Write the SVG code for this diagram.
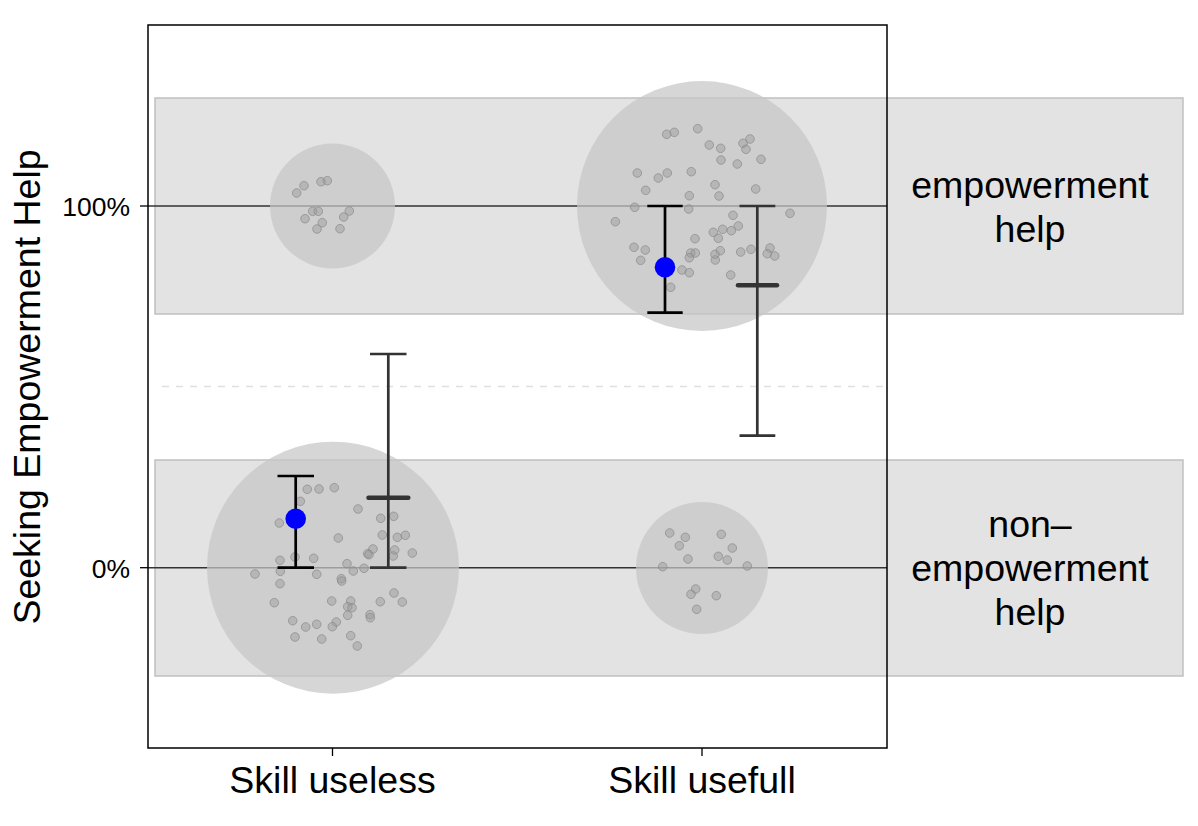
<svg xmlns="http://www.w3.org/2000/svg" width="1198" height="826" viewBox="0 0 1198 826">
<style>
.strip{fill:#e3e3e3;stroke:#c0c0c0;stroke-width:1.5}
.hline{stroke:#333;stroke-width:1.5}
.bubble{fill:#c6c6c6;fill-opacity:0.72}
.dot{fill:#9a9a9a;fill-opacity:0.45;stroke:#8a8a8a;stroke-opacity:0.7;stroke-width:1}
.eb{stroke:#000;stroke-width:2.7;fill:none}
.eb2{stroke:#333;stroke-width:2.7;fill:none}
.mid{stroke:#333;stroke-width:4.5;stroke-linecap:round}
.mean{fill:#0000ff}
.lbl{font-family:"Liberation Sans",Arial,sans-serif;fill:#000}
.tick{stroke:#000;stroke-width:1.3}
</style>
<rect width="1198" height="826" fill="#fff"/>
<g id="strips">
<rect class="strip" x="155" y="98" width="1028" height="216"/>
<rect class="strip" x="155" y="460" width="1028" height="216"/>
</g>
<g id="gridlines">
<line class="hline" x1="148" y1="206" x2="887" y2="206"/>
<line class="hline" x1="148" y1="567.7" x2="887" y2="567.7"/>
<line x1="162" y1="386.5" x2="887" y2="386.5" stroke="#e0e0e0" stroke-width="1.5" stroke-dasharray="7,7"/>
</g>
<g id="bubbles">
<circle class="bubble" cx="332.5" cy="206" r="62.5"/>
<circle class="bubble" cx="702" cy="206" r="125"/>
<circle class="bubble" cx="333" cy="567.7" r="126"/>
<circle class="bubble" cx="702" cy="568" r="66"/>
</g>
<g id="dots-useless-emp">
<circle class="dot" cx="296.7" cy="193" r="4.3"/><circle class="dot" cx="304" cy="185.7" r="4.3"/><circle class="dot" cx="321" cy="181.7" r="4.3"/><circle class="dot" cx="327.3" cy="180.7" r="4.3"/><circle class="dot" cx="312.7" cy="211.3" r="4.3"/><circle class="dot" cx="318.3" cy="211.3" r="4.3"/><circle class="dot" cx="349.3" cy="211" r="4.3"/><circle class="dot" cx="305" cy="218.7" r="4.3"/><circle class="dot" cx="322.3" cy="222.7" r="4.3"/><circle class="dot" cx="343.7" cy="217" r="4.3"/><circle class="dot" cx="317" cy="229" r="4.3"/><circle class="dot" cx="340" cy="228.7" r="4.3"/>
</g>
<g id="dots-usefull-emp">
<circle class="dot" cx="666.7" cy="134.3" r="4.3"/><circle class="dot" cx="674.3" cy="132.3" r="4.3"/><circle class="dot" cx="697.7" cy="128.7" r="4.3"/><circle class="dot" cx="709.3" cy="145" r="4.3"/><circle class="dot" cx="720.7" cy="148.3" r="4.3"/><circle class="dot" cx="743" cy="143.3" r="4.3"/><circle class="dot" cx="750" cy="139" r="4.3"/><circle class="dot" cx="746" cy="149.3" r="4.3"/><circle class="dot" cx="721" cy="160" r="4.3"/><circle class="dot" cx="737.3" cy="164" r="4.3"/><circle class="dot" cx="761" cy="159.3" r="4.3"/><circle class="dot" cx="637.3" cy="173" r="4.3"/><circle class="dot" cx="667.3" cy="173" r="4.3"/><circle class="dot" cx="658.3" cy="178" r="4.3"/><circle class="dot" cx="691.3" cy="171.7" r="4.3"/><circle class="dot" cx="715" cy="184.7" r="4.3"/><circle class="dot" cx="755.7" cy="189" r="4.3"/><circle class="dot" cx="645.7" cy="190.3" r="4.3"/><circle class="dot" cx="689.3" cy="195.7" r="4.3"/><circle class="dot" cx="719" cy="196" r="4.3"/><circle class="dot" cx="634.7" cy="207.3" r="4.3"/><circle class="dot" cx="688.7" cy="209" r="4.3"/><circle class="dot" cx="790" cy="213.3" r="4.3"/><circle class="dot" cx="615.3" cy="221.7" r="4.3"/><circle class="dot" cx="733" cy="215.3" r="4.3"/><circle class="dot" cx="738.3" cy="226" r="4.3"/><circle class="dot" cx="731.3" cy="230.7" r="4.3"/><circle class="dot" cx="722.7" cy="229.3" r="4.3"/><circle class="dot" cx="713.3" cy="232.3" r="4.3"/><circle class="dot" cx="718.3" cy="238.3" r="4.3"/><circle class="dot" cx="695" cy="238.7" r="4.3"/><circle class="dot" cx="634" cy="247.3" r="4.3"/><circle class="dot" cx="645.3" cy="250" r="4.3"/><circle class="dot" cx="640.7" cy="260.3" r="4.3"/><circle class="dot" cx="690.7" cy="253" r="4.3"/><circle class="dot" cx="695.3" cy="253" r="4.3"/><circle class="dot" cx="689.3" cy="257.7" r="4.3"/><circle class="dot" cx="715" cy="254.3" r="4.3"/><circle class="dot" cx="720.3" cy="250.7" r="4.3"/><circle class="dot" cx="715.3" cy="260" r="4.3"/><circle class="dot" cx="740.7" cy="252" r="4.3"/><circle class="dot" cx="751" cy="249.3" r="4.3"/><circle class="dot" cx="770" cy="248" r="4.3"/><circle class="dot" cx="767.3" cy="253.7" r="4.3"/><circle class="dot" cx="774.7" cy="256" r="4.3"/><circle class="dot" cx="682" cy="270" r="4.3"/><circle class="dot" cx="689.3" cy="272.7" r="4.3"/><circle class="dot" cx="730.7" cy="275" r="4.3"/><circle class="dot" cx="670.7" cy="287.3" r="4.3"/>
</g>
<g id="dots-useless-non">
<circle class="dot" cx="307.3" cy="489.3" r="4.3"/><circle class="dot" cx="319" cy="489" r="4.3"/><circle class="dot" cx="334.3" cy="487.7" r="4.3"/><circle class="dot" cx="300.3" cy="501.3" r="4.3"/><circle class="dot" cx="358" cy="509" r="4.3"/><circle class="dot" cx="279.3" cy="523" r="4.3"/><circle class="dot" cx="380.7" cy="518.3" r="4.3"/><circle class="dot" cx="393.7" cy="516.3" r="4.3"/><circle class="dot" cx="338.3" cy="538" r="4.3"/><circle class="dot" cx="382.3" cy="535" r="4.3"/><circle class="dot" cx="397.3" cy="537.3" r="4.3"/><circle class="dot" cx="405.3" cy="535.3" r="4.3"/><circle class="dot" cx="373" cy="549" r="4.3"/><circle class="dot" cx="367.7" cy="553.7" r="4.3"/><circle class="dot" cx="369" cy="554.7" r="4.3"/><circle class="dot" cx="394.7" cy="550" r="4.3"/><circle class="dot" cx="393.3" cy="556" r="4.3"/><circle class="dot" cx="412.3" cy="553" r="4.3"/><circle class="dot" cx="280" cy="560.3" r="4.3"/><circle class="dot" cx="295" cy="557" r="4.3"/><circle class="dot" cx="313.7" cy="558.3" r="4.3"/><circle class="dot" cx="347" cy="563.7" r="4.3"/><circle class="dot" cx="353.3" cy="571" r="4.3"/><circle class="dot" cx="364" cy="568.3" r="4.3"/><circle class="dot" cx="255" cy="574" r="4.3"/><circle class="dot" cx="280.3" cy="571.3" r="4.3"/><circle class="dot" cx="316.7" cy="574.3" r="4.3"/><circle class="dot" cx="341.3" cy="578.7" r="4.3"/><circle class="dot" cx="341.7" cy="581" r="4.3"/><circle class="dot" cx="280" cy="583.7" r="4.3"/><circle class="dot" cx="274.3" cy="602.7" r="4.3"/><circle class="dot" cx="331.7" cy="601" r="4.3"/><circle class="dot" cx="350.7" cy="601" r="4.3"/><circle class="dot" cx="347.7" cy="606.7" r="4.3"/><circle class="dot" cx="352" cy="607.7" r="4.3"/><circle class="dot" cx="380.3" cy="601.7" r="4.3"/><circle class="dot" cx="394" cy="593" r="4.3"/><circle class="dot" cx="402.3" cy="602" r="4.3"/><circle class="dot" cx="347.7" cy="615.3" r="4.3"/><circle class="dot" cx="370" cy="614.7" r="4.3"/><circle class="dot" cx="370.3" cy="617.7" r="4.3"/><circle class="dot" cx="292.7" cy="620.7" r="4.3"/><circle class="dot" cx="305.7" cy="627" r="4.3"/><circle class="dot" cx="316.7" cy="624.3" r="4.3"/><circle class="dot" cx="336.3" cy="622" r="4.3"/><circle class="dot" cx="332.3" cy="626.7" r="4.3"/><circle class="dot" cx="295" cy="637" r="4.3"/><circle class="dot" cx="321.7" cy="639" r="4.3"/><circle class="dot" cx="350.7" cy="635.7" r="4.3"/><circle class="dot" cx="357.3" cy="646" r="4.3"/>
</g>
<g id="dots-usefull-non">
<circle class="dot" cx="669.7" cy="533" r="4.3"/><circle class="dot" cx="685.3" cy="537.3" r="4.3"/><circle class="dot" cx="679.3" cy="545.7" r="4.3"/><circle class="dot" cx="721.3" cy="534.3" r="4.3"/><circle class="dot" cx="732.3" cy="548" r="4.3"/><circle class="dot" cx="688" cy="559" r="4.3"/><circle class="dot" cx="718.3" cy="556.3" r="4.3"/><circle class="dot" cx="727.3" cy="560" r="4.3"/><circle class="dot" cx="662.7" cy="566.7" r="4.3"/><circle class="dot" cx="747.3" cy="566" r="4.3"/><circle class="dot" cx="695.7" cy="589" r="4.3"/><circle class="dot" cx="691" cy="594.3" r="4.3"/><circle class="dot" cx="716.3" cy="595.7" r="4.3"/><circle class="dot" cx="696.7" cy="609.3" r="4.3"/>
</g>
<g id="errorbars-predicted">
<path class="eb2" d="M388.3 354V567.7M370 354H406.5M370 567.7H406.5"/>
<line class="mid" x1="368.5" y1="497.7" x2="408.3" y2="497.7"/>
<path class="eb2" d="M757.3 206V435.7M739.5 206H775.3M739.5 435.7H775.3"/>
<line class="mid" x1="738" y1="285.3" x2="777" y2="285.3"/>
</g>
<g id="errorbars-observed">
<path class="eb" d="M295.7 476V567.7M277.5 476H314M277.5 567.7H314"/>
<circle class="mean" cx="295.7" cy="518.7" r="10.3"/>
<path class="eb" d="M665 206V312.7M647.3 206H682.7M647.3 312.7H682.7"/>
<circle class="mean" cx="665" cy="267.3" r="10.3"/>
</g>
<g id="panel">
<rect x="148" y="25" width="739" height="723" fill="none" stroke="#000" stroke-width="1.5"/>
</g>
<g id="axes">
<line class="tick" x1="140" y1="206" x2="148" y2="206"/>
<line class="tick" x1="140" y1="567.7" x2="148" y2="567.7"/>
<line class="tick" x1="332.5" y1="748" x2="332.5" y2="756"/>
<line class="tick" x1="702" y1="748" x2="702" y2="756"/>
<text class="lbl" x="130" y="216" font-size="26.5" text-anchor="end">100%</text>
<text class="lbl" x="130" y="578" font-size="26.5" text-anchor="end">0%</text>
<text class="lbl" x="332.5" y="793" font-size="37.5" text-anchor="middle">Skill useless</text>
<text class="lbl" x="702" y="793" font-size="37.5" text-anchor="middle">Skill usefull</text>
<text class="lbl" transform="translate(40 387) rotate(-90)" x="0" y="0" font-size="37.5" text-anchor="middle">Seeking Empowerment Help</text>
</g>
<g id="strip-labels">
<text class="lbl" x="1030" y="198" font-size="37.5" text-anchor="middle">empowerment</text>
<text class="lbl" x="1030" y="242" font-size="37.5" text-anchor="middle">help</text>
<text class="lbl" x="1030" y="537" font-size="37.5" text-anchor="middle">non–</text>
<text class="lbl" x="1030" y="581" font-size="37.5" text-anchor="middle">empowerment</text>
<text class="lbl" x="1030" y="625" font-size="37.5" text-anchor="middle">help</text>
</g>
</svg>
